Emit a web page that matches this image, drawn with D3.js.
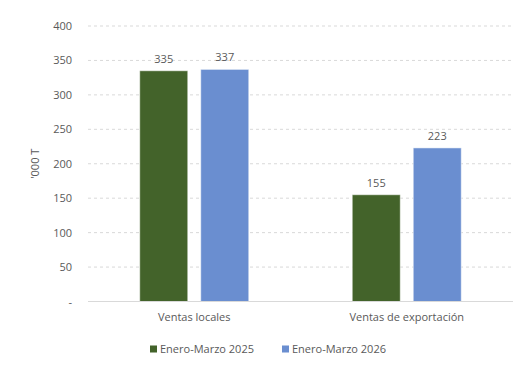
<!DOCTYPE html>
<html>
<head>
<meta charset="utf-8">
<script src="https://cdn.jsdelivr.net/npm/d3@7"></script>
<style>
  body { margin: 0; background: #fff; }
  svg text { font-family: "Open Sans", sans-serif; fill: #595959; }
</style>
</head>
<body>
<div id="container"></div>
<script>
/* DATA */
const categories = ["Ventas locales", "Ventas de exportación"];
const seriesNames = ["Enero-Marzo 2025", "Enero-Marzo 2026"];
const values2025 = [335, 155];
const values2026 = [337, 223];
const yTicks = [0, 50, 100, 150, 200, 250, 300, 350, 400];

const colors = ["#43632a", "#6a8ed0"];

const width = 529, height = 368,
  margin = { top: 26, bottom: 66.5, left: 88, right: 16 };

const svg = d3.select("#container")
  .append("svg")
  .attr("width", width)
  .attr("height", height);

// build rows for grouped bars
const rows = categories.map((c, i) => ({
  cat: c,
  vals: [values2025[i], values2026[i]]
}));

const x0 = d3.scaleBand()
  .domain(categories)
  .range([margin.left, width - margin.right])
  .paddingInner(0.487)
  .paddingOuter(0.2435);

const x1 = d3.scaleBand()
  .domain(d3.range(seriesNames.length))
  .range([0, x0.bandwidth()])
  .paddingInner(0.213);

const y = d3.scaleLinear()
  .domain([0, 400])
  .range([height - margin.bottom, margin.top]);

// gridlines
svg.append("g")
  .selectAll("line")
  .data(yTicks.filter(d => d > 0))
  .join("line")
  .attr("x1", margin.left)
  .attr("x2", width - margin.right)
  .attr("y1", d => y(d))
  .attr("y2", d => y(d))
  .attr("stroke", "#d9d9d9")
  .attr("stroke-width", 1)
  .attr("stroke-dasharray", "3,3");

// y axis labels
const yAxis = d3.axisLeft(y)
  .tickValues(yTicks)
  .tickSize(0)
  .tickPadding(0)
  .tickFormat(d => d === 0 ? "-" : d);

svg.append("g")
  .attr("transform", `translate(${margin.left - 16},0)`)
  .call(yAxis)
  .call(g => g.select(".domain").remove())
  .selectAll("text")
  .attr("font-size", "11px")
  .style("font-family", "'Open Sans', sans-serif")
  .attr("fill", "#595959");

// y axis title
svg.append("text")
  .attr("transform", `translate(39, ${(y(0) + y(400)) / 2}) rotate(-90)`)
  .attr("text-anchor", "middle")
  .attr("font-size", "11px")
  .text("'000 T");

// bars
const groups = svg.append("g")
  .selectAll("g")
  .data(rows)
  .join("g")
  .attr("transform", d => `translate(${x0(d.cat)},0)`);

groups.selectAll("rect")
  .data(d => d.vals.map((v, i) => ({ i, v })))
  .join("rect")
  .attr("x", d => x1(d.i))
  .attr("y", d => y(d.v))
  .attr("width", x1.bandwidth())
  .attr("height", d => y(0) - y(d.v))
  .attr("fill", d => colors[d.i])
  .attr("stroke", "#ffffff")
  .attr("stroke-opacity", 0.5)
  .attr("stroke-width", 1);

groups.selectAll("text")
  .data(d => d.vals.map((v, i) => ({ i, v })))
  .join("text")
  .attr("x", d => x1(d.i) + x1.bandwidth() / 2)
  .attr("y", d => y(d.v) - 8)
  .attr("text-anchor", "middle")
  .attr("font-size", "11px")
  .text(d => d.v);

// x axis baseline
svg.append("line")
  .attr("x1", margin.left)
  .attr("x2", width - margin.right)
  .attr("y1", y(0))
  .attr("y2", y(0))
  .attr("stroke", "#d9d9d9")
  .attr("stroke-width", 1);

// x axis labels
const xAxis = d3.axisBottom(x0).tickSize(0).tickPadding(12);
svg.append("g")
  .attr("transform", `translate(0,${y(0)})`)
  .call(xAxis)
  .call(g => g.select(".domain").remove())
  .selectAll("text")
  .attr("font-size", "11px")
  .style("font-family", "'Open Sans', sans-serif")
  .attr("fill", "#595959");

// legend
const legendX = [150, 282];
const legend = svg.append("g")
  .selectAll("g")
  .data(seriesNames)
  .join("g")
  .attr("transform", (d, i) => `translate(${legendX[i]}, 349)`);

legend.append("rect")
  .attr("x", 0)
  .attr("y", -3.5)
  .attr("width", 7)
  .attr("height", 7)
  .attr("fill", (d, i) => colors[i]);

legend.append("text")
  .attr("x", 10)
  .attr("y", 4)
  .attr("font-size", "11px")
  .text(d => d);
</script>
</body>
</html>
